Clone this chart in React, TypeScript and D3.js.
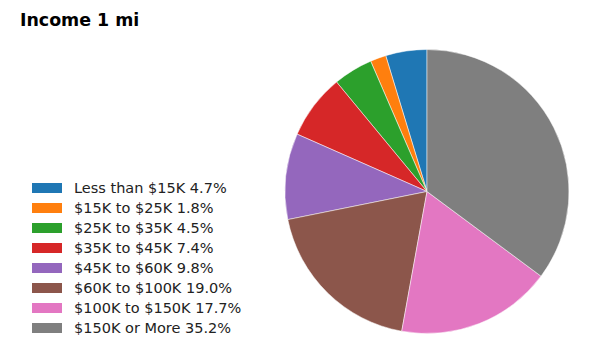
import React from "react";
import * as d3 from "d3";

const categories = [
  "Less than $15K",
  "$15K to $25K",
  "$25K to $35K",
  "$35K to $45K",
  "$45K to $60K",
  "$60K to $100K",
  "$100K to $150K",
  "$150K or More",
];
const values = [4.7, 1.8, 4.5, 7.4, 9.8, 19.0, 17.7, 35.2];
const colors = ["#1f77b4", "#ff7f0e", "#2ca02c", "#d62728", "#9467bd", "#8c564b", "#e377c2", "#7f7f7f"];
const title = "Income 1 mi";

export default function App() {
  const W = 600, H = 358;
  const cx = 427, cy = 191.5, r = 142;
  const pie = d3.pie<number>().sort(null).startAngle(0).endAngle(-2 * Math.PI);
  const arcs = pie(values);
  const arc = d3.arc<d3.PieArcDatum<number>>().innerRadius(0).outerRadius(r);
  const font = "'DejaVu Sans', sans-serif";
  return (
    <svg width={W} height={H} style={{ position: "absolute", left: 0, top: 0, background: "#fff" }}>
      <text x={20} y={26} fontFamily={font} fontWeight="bold" fontSize={17.4} fill="#000">{title}</text>
      <g transform={`translate(${cx},${cy})`}>
        {arcs.map((a, i) => (
          <path key={i} d={arc(a) || ""} fill={colors[i]} stroke="#fff" strokeWidth={0.5} />
        ))}
      </g>
      <g>
        {categories.map((c, i) => (
          <g key={i} transform={`translate(32, ${188 + i * 20})`}>
            <rect x={0} y={-5} width={30} height={10} fill={colors[i]} />
            <text x={42} y={5.3} fontFamily={font} fontSize={14.5} fill="#222">
              {`${c} ${values[i].toFixed(1)}%`}
            </text>
          </g>
        ))}
      </g>
    </svg>
  );
}
